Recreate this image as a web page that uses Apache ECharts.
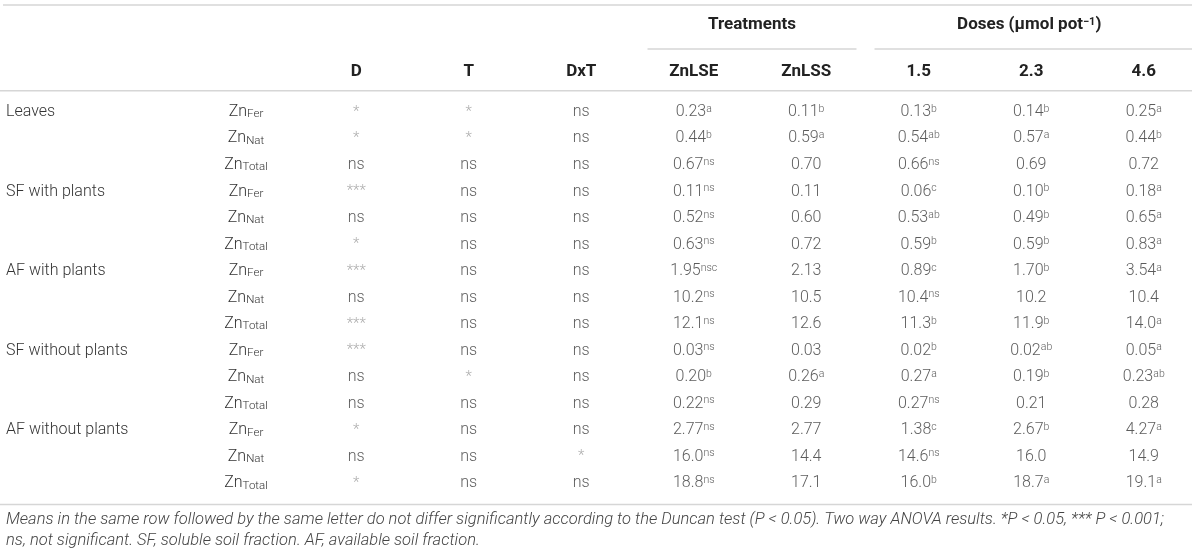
<!DOCTYPE html>
<html>
<head>
<meta charset="utf-8">
<script src="https://cdn.jsdelivr.net/npm/echarts@6/dist/echarts.min.js"></script>
<style>
html,body{margin:0;padding:0;background:#fff}
#main{width:1200px;height:556px}
</style>
</head>
<body>
<div id="main"></div>
<script>
// table content
var groups = ['Leaves', 'SF with plants', 'AF with plants', 'SF without plants', 'AF without plants'];
var fractions = ['Fer', 'Nat', 'Total'];
var columns = ['D', 'T', 'DxT', 'ZnLSE', 'ZnLSS', '1.5', '2.3', '4.6'];

var effectD   = ['*', '*', 'ns', '***', 'ns', '*', '***', 'ns', '***', '***', 'ns', 'ns', '*', 'ns', '*'];
var effectT   = ['*', '*', 'ns', 'ns', 'ns', 'ns', 'ns', 'ns', 'ns', 'ns', '*', 'ns', 'ns', 'ns', 'ns'];
var effectDxT = ['ns', 'ns', 'ns', 'ns', 'ns', 'ns', 'ns', 'ns', 'ns', 'ns', 'ns', 'ns', 'ns', '*', 'ns'];
var meanZnLSE = ['0.23a', '0.44b', '0.67ns', '0.11ns', '0.52ns', '0.63ns', '1.95nsc', '10.2ns', '12.1ns', '0.03ns', '0.20b', '0.22ns', '2.77ns', '16.0ns', '18.8ns'];
var meanZnLSS = ['0.11b', '0.59a', '0.70', '0.11', '0.60', '0.72', '2.13', '10.5', '12.6', '0.03', '0.26a', '0.29', '2.77', '14.4', '17.1'];
var meanDose15 = ['0.13b', '0.54ab', '0.66ns', '0.06c', '0.53ab', '0.59b', '0.89c', '10.4ns', '11.3b', '0.02b', '0.27a', '0.27ns', '1.38c', '14.6ns', '16.0b'];
var meanDose23 = ['0.14b', '0.57a', '0.69', '0.10b', '0.49b', '0.59b', '1.70b', '10.2', '11.9b', '0.02ab', '0.19b', '0.21', '2.67b', '16.0', '18.7a'];
var meanDose46 = ['0.25a', '0.44b', '0.72', '0.18a', '0.65a', '0.83a', '3.54a', '10.4', '14.0a', '0.05a', '0.23ab', '0.28', '4.27a', '14.9', '19.1a'];

var footnote = [
    'Means in the same row followed by the same letter do not differ significantly according to the Duncan test (P < 0.05). Two way ANOVA results. *P < 0.05, *** P < 0.001;',
    'ns, not significant. SF, soluble soil fraction. AF, available soil fraction.'
];

var FONT = 'Roboto, "Liberation Sans", Arial, sans-serif';
var TXT = '#333';
var RULE = '#d6d6d6';

var cellCols = [effectD, effectT, effectDxT, meanZnLSE, meanZnLSS, meanDose15, meanDose23, meanDose46];
var rowKeys = [];
for (var r = 0; r < groups.length * fractions.length; r++) rowKeys.push(String(r));

var rich = {
    txt: {fontSize: 16, fontFamily: FONT, fontWeight: 300, color: TXT, lineHeight: 17},
    sup: {fontSize: 10.5, fontFamily: FONT, fontWeight: 300, color: TXT, lineHeight: 8, verticalAlign: 'top'},
    sub: {fontSize: 11.5, fontFamily: FONT, fontWeight: 300, color: TXT, lineHeight: 7, verticalAlign: 'bottom'},
    star: {fontSize: 15, fontFamily: FONT, fontWeight: 300, color: '#999', lineHeight: 17}
};

function cellLabel(s) {
    if (/^\*+$/.test(s)) return '{star|' + s + '}';
    var m = s.match(/^([\d.]+)(.*)$/);
    if (!m) return '{txt|' + s + '}';
    return m[2] ? '{txt|' + m[1] + '}{sup|' + m[2] + '}' : '{txt|' + m[1] + '}';
}

var series = cellCols.map(function (col, c) {
    return {
        type: 'scatter',
        silent: true,
        symbol: 'circle',
        symbolSize: 1,
        itemStyle: {color: 'rgba(0,0,0,0)'},
        label: {
            show: true,
            position: 'inside',
            align: 'center',
            verticalAlign: 'middle',
            formatter: function (p) { return cellLabel(p.name); },
            rich: rich
        },
        emphasis: {disabled: true},
        data: col.map(function (v, i) { return {name: v, value: [c, i]}; })
    };
});

var gridTop = 98.7, gridHeight = 397.8;
var option = {
    animation: false,
    grid: {left: 300, top: gridTop, width: 901, height: gridHeight},
    xAxis: {
        type: 'category',
        data: columns,
        position: 'top',
        axisLine: {show: false},
        axisTick: {show: false},
        splitLine: {show: false},
        axisLabel: {interval: 0, margin: 18, fontSize: 17, fontWeight: 'bold', fontFamily: FONT, color: '#222'}
    },
    yAxis: [{
        type: 'category',
        data: rowKeys,
        inverse: true,
        axisLine: {show: false},
        axisTick: {show: false},
        axisLabel: {
            interval: 0, margin: 294, align: 'left',
            fontSize: 16, fontWeight: 300, fontFamily: FONT, color: TXT,
            formatter: function (v, i) { return i % 3 === 0 ? groups[i / 3] : ''; }
        }
    }, {
        type: 'category',
        data: rowKeys,
        inverse: true,
        position: 'left',
        axisLine: {show: false},
        axisTick: {show: false},
        axisLabel: {
            interval: 0, margin: 54, align: 'center',
            formatter: function (v, i) { return '{txt|Zn}{sub|' + fractions[i % 3] + '}'; },
            rich: rich
        }
    }],
    series: series
};

var myChart = echarts.init(document.getElementById('main'));
myChart.setOption(option);

// rules and spanning headers placed from the axis scale
var x0 = myChart.convertToPixel({xAxisIndex: 0}, 0);
var band = myChart.convertToPixel({xAxisIndex: 0}, 1) - x0;
function bandLeft(c) { return x0 + (c - 0.5) * band; }
function bandRight(c) { return x0 + (c + 0.5) * band; }
var tableRight = bandRight(7) - 8;
var headRule = gridTop - 8;
var footRule = gridTop + gridHeight + 8;

function rule(x1, y, x2) {
    return {type: 'line', silent: true, shape: {x1: x1, y1: y, x2: x2, y2: y}, style: {stroke: RULE, lineWidth: 1.5}};
}
function spanText(str, cx, richStyle) {
    return {
        type: 'text', silent: true, x: cx, y: 25,
        style: {text: str, align: 'center', verticalAlign: 'middle', fontSize: 17, fontWeight: 'bold', fontFamily: FONT, fill: '#222', rich: richStyle}
    };
}

var graphics = [
    rule(3, 5, tableRight),
    rule(bandLeft(3) + 10, 49, bandRight(4) - 6),
    rule(bandLeft(5) + 12, 49, tableRight),
    rule(0, headRule, tableRight),
    rule(0, footRule, tableRight),
    spanText('Treatments', (bandLeft(3) + bandRight(4)) / 2 + 2),
    spanText('Doses (\u03bcmol pot{s|\u22121})', (bandLeft(5) + 12 + tableRight) / 2 - 4, {
        s: {fontSize: 11, fontWeight: 'bold', fontFamily: FONT, fill: '#222', lineHeight: 8, verticalAlign: 'top'}
    })
];
footnote.forEach(function (line, k) {
    graphics.push({
        type: 'text', silent: true, x: 6, y: 520 + k * 21,
        style: {text: line, verticalAlign: 'middle', fontSize: 16.5, fontStyle: 'italic', fontWeight: 300, fontFamily: FONT, fill: '#444'}
    });
});
myChart.setOption({graphic: graphics});
</script>
</body>
</html>
